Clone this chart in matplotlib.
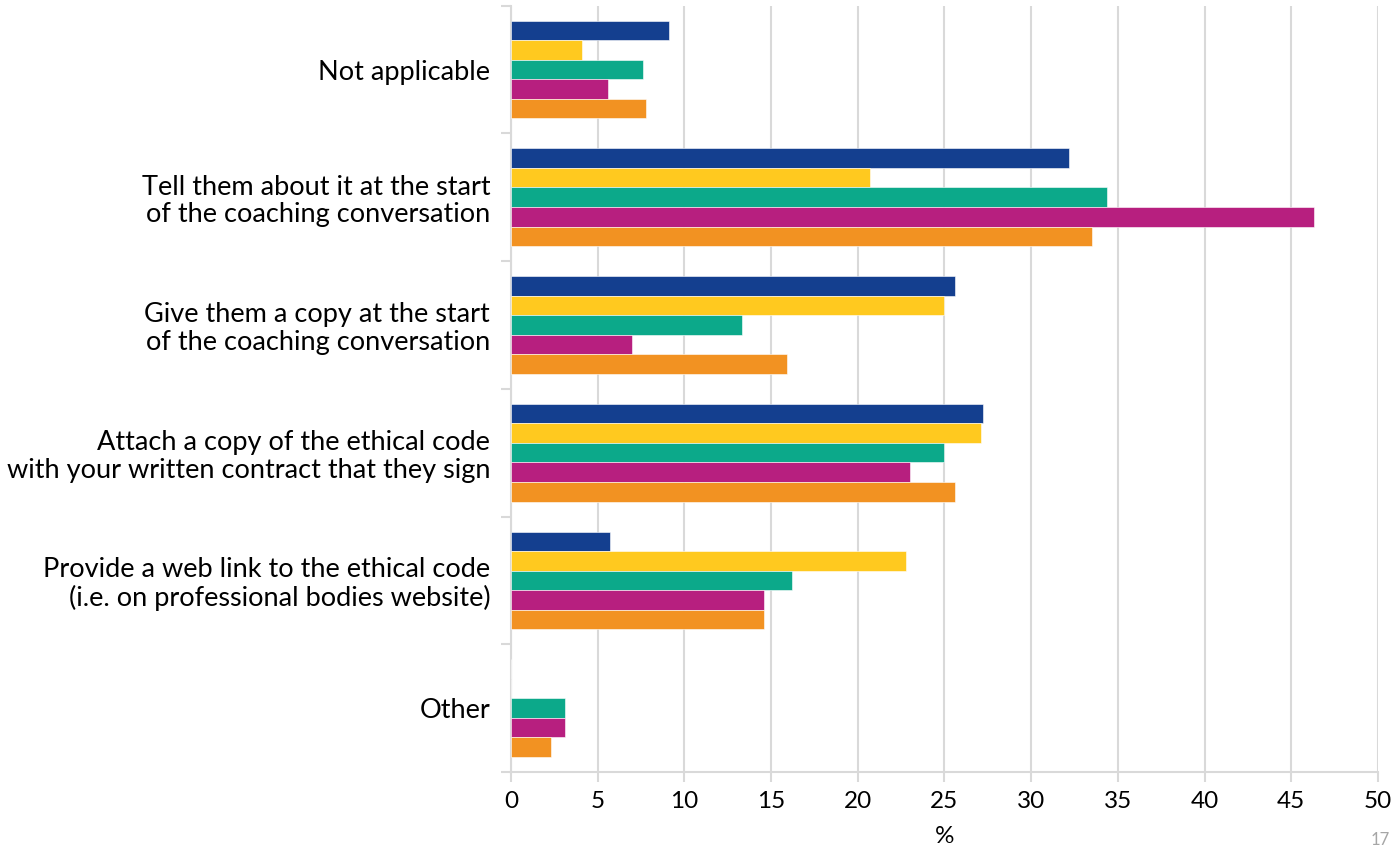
import matplotlib
matplotlib.use("Agg")
import matplotlib.pyplot as plt
import numpy as np

plt.rcParams['font.family'] = ['Lato', 'DejaVu Sans']

categories = [
    "Not applicable",
    "Tell them about it at the start\nof the coaching conversation",
    "Give them a copy at the start\nof the coaching conversation",
    "Attach a copy of the ethical code\nwith your written contract that they sign",
    "Provide a web link to the ethical code\n(i.e. on professional bodies website)",
    "Other",
]
series_blue = [9.1, 32.2, 25.6, 27.2, 5.7, 0]
series_yellow = [4.1, 20.7, 25.0, 27.1, 22.8, 0]
series_green = [7.6, 34.4, 13.3, 25.0, 16.2, 3.1]
series_magenta = [5.6, 46.3, 7.0, 23.0, 14.6, 3.1]
series_orange = [7.8, 33.5, 15.9, 25.6, 14.6, 2.3]
xticks = [0, 5, 10, 15, 20, 25, 30, 35, 40, 45, 50]

series = [series_blue, series_yellow, series_green, series_magenta, series_orange]
colors = ["#143F8F", "#FFC91F", "#0CA98A", "#B71F7F", "#F29222"]

fig = plt.figure(figsize=(13.95, 8.49), dpi=100)
ax = fig.add_axes([511/1395, 1-772/849, (1378-511)/1395, (772-5.7)/849])

n = len(categories)
k = len(series)
group_w = 0.766
bh = group_w / k
y0 = np.arange(n)
for i, (vals, c) in enumerate(zip(series, colors)):
    ys = y0 - group_w/2 + bh*(i+0.5)
    ax.barh(ys, vals, height=bh, color=c, edgecolor='white', linewidth=0.4, zorder=3)

ax.set_ylim(n-0.5, -0.5)
ax.set_xlim(0, 50)
ax.set_xticks(xticks)
ax.set_xticklabels([str(t) for t in xticks], fontsize=17.5)
ax.set_yticks(y0)
ax.set_yticklabels(categories, fontsize=19.5, linespacing=1.12)
ax.set_yticks(np.arange(n+1)-0.5, minor=True)
ax.tick_params(axis='y', which='major', length=0, pad=15)
ax.tick_params(axis='y', which='minor', length=7, color='#d9d9d9', width=1.5)
ax.tick_params(axis='x', length=7, color='#d9d9d9', width=1.5, pad=7)
ax.grid(axis='x', color='#d9d9d9', linewidth=1.5, zorder=0)
for s in ['top', 'right']:
    ax.spines[s].set_visible(False)
for s in ['left', 'bottom']:
    ax.spines[s].set_color('#d9d9d9')
    ax.spines[s].set_linewidth(1.5)
ax.set_xlabel('%', fontsize=17.5, labelpad=10)

fig.text(1380/1395, 1-840/849, '17', fontsize=12, color='#a6a6a6', ha='center', va='center')

fig.savefig('out.png', dpi=100)
